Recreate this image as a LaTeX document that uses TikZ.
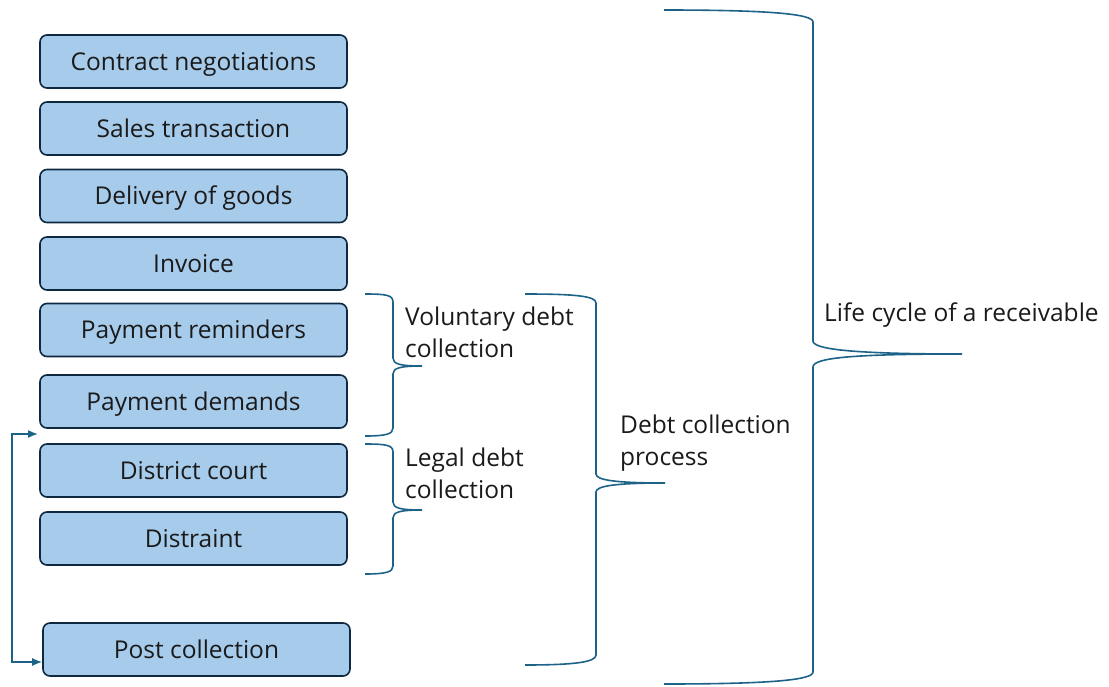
\documentclass[tikz,border=0pt]{standalone}
\usepackage{fontspec}
\setmainfont{Open Sans}
\usetikzlibrary{arrows.meta}
\definecolor{boxfill}{HTML}{A7CBEB}
\definecolor{boxline}{HTML}{0E2841}
\definecolor{bracecol}{HTML}{1D6388}
\definecolor{txt}{HTML}{1A1A1A}
\tikzset{
  stepbox/.style={draw=boxline, line width=1.6pt, fill=boxfill, rounded corners=7pt,
    minimum width=307pt, minimum height=53pt, inner sep=0pt, text=txt,
    text height=20pt, text depth=3pt,
    font=\fontsize{24.5}{28}\selectfont},
  lbl/.style={anchor=west, align=left, inner sep=0pt, text=txt,
    font=\fontsize{24.5}{32}\selectfont},
  brace/.style={draw=bracecol, line width=1.6pt},
  flow/.style={draw=bracecol, line width=1.6pt, {Latex[length=10pt,width=8pt]}-{Latex[length=10pt,width=8pt]}}
}
\begin{document}
\begin{tikzpicture}[x=1pt, y=-1pt]
\useasboundingbox (0,0) rectangle (1109,686);
% process steps
\node[stepbox] (b1) at (193.5,61.5) {Contract negotiations};
\node[stepbox] (b2) at (193.5,128.5) {Sales transaction};
\node[stepbox] (b3) at (193.5,196) {Delivery of goods};
\node[stepbox] (b4) at (193.5,263.5) {Invoice};
\node[stepbox] (b5) at (193.5,330) {Payment reminders};
\node[stepbox] (b6) at (193.5,401.5) {Payment demands};
\node[stepbox] (b7) at (193.5,470.5) {District court};
\node[stepbox] (b8) at (193.5,538.5) {Distraint};
\node[stepbox] (b9) at (196.5,649.5) {Post collection};
% return loop from post collection
\coordinate (ret) at (38,434);
\draw[flow] ([yshift=-12.5pt]b9.west) -- ++(-30,0) |- (ret);
% braces
\draw[brace] (365,294) .. controls (386,294) and (393,295) .. (393,302) -- (393,358)
  .. controls (393,364) and (400,366) .. (422,366)
  .. controls (400,366) and (393,368) .. (393,374) -- (393,428)
  .. controls (393,434) and (386,436) .. (365,436);
\draw[brace] (365,444) .. controls (386,444) and (393,445) .. (393,452) -- (393,502)
  .. controls (393,508) and (400,510) .. (422,510)
  .. controls (400,510) and (393,512) .. (393,518) -- (393,566)
  .. controls (393,572) and (386,574) .. (365,574);
\draw[brace] (525,294) .. controls (575,294) and (596,296) .. (596,303) -- (596,474)
  .. controls (596,480) and (615,483) .. (665,483)
  .. controls (615,483) and (596,486) .. (596,492) -- (596,655)
  .. controls (596,662) and (575,665) .. (525,665);
\draw[brace] (664,10) .. controls (770,10) and (813,14) .. (813,22) -- (813,341)
  .. controls (813,349) and (850,354) .. (962,354)
  .. controls (850,354) and (813,358) .. (813,367) -- (813,672)
  .. controls (813,680) and (770,684) .. (664,684);
% brace labels
\node[lbl] (vol) at (405,332) {Voluntary debt\\collection};
\node[lbl] (leg) at (405,473) {Legal debt\\collection};
\node[lbl] (dcp) at (620,443) {Debt collection\\process};
\node[lbl] (life) at (824,315) {Life cycle of a receivable};
\end{tikzpicture}
\end{document}
